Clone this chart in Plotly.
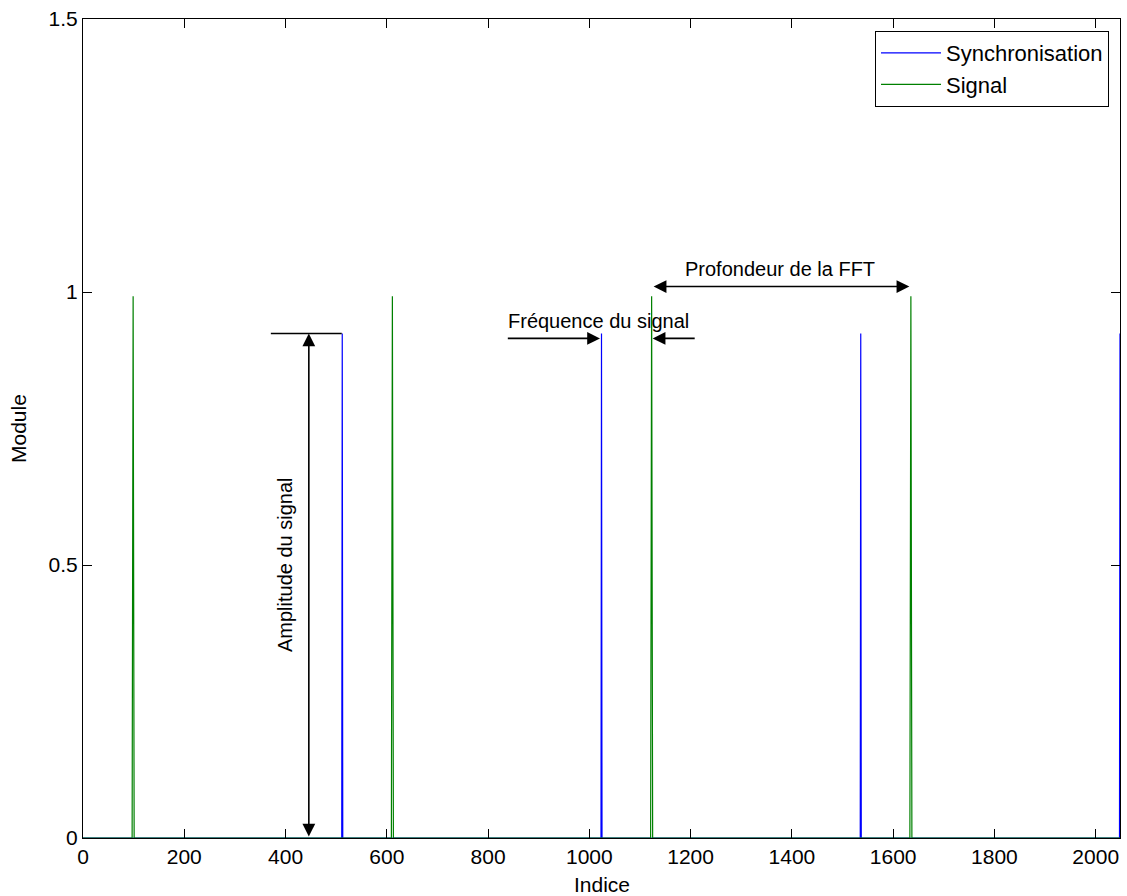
import plotly.graph_objects as go

# Data (index, module)
sync_x = [0, 511, 512, 513, 1023, 1024, 1025, 1535, 1536, 1537, 2047, 2048]
sync_y = [0, 0, 0.924, 0, 0, 0.924, 0, 0, 0.924, 0, 0, 0.924]

signal_x = [0, 97, 99, 101, 609, 611, 613, 1121, 1123, 1125, 1633, 1635, 1637, 2048]
signal_y = [0, 0, 0.992, 0, 0, 0.992, 0, 0, 0.992, 0, 0, 0.992, 0, 0]

x_ticks = [0, 200, 400, 600, 800, 1000, 1200, 1400, 1600, 1800, 2000]
y_ticks = [0, 0.5, 1, 1.5]
y_tick_text = ["0", "0.5", "1", "1.5"]

FONT = "Liberation Sans, Arial, Helvetica, sans-serif"

fig = go.Figure()
fig.add_trace(go.Scatter(x=sync_x, y=sync_y, mode="lines", name="Synchronisation",
                         line=dict(color="#0000FF", width=1.2)))
fig.add_trace(go.Scatter(x=signal_x, y=signal_y, mode="lines", name="Signal",
                         line=dict(color="#008000", width=1.2)))

axis_common = dict(showline=True, linecolor="black", linewidth=1, mirror="allticks",
                   ticks="inside", ticklen=9, tickcolor="black", tickwidth=1,
                   showgrid=False, zeroline=False, automargin=False,
                   tickfont=dict(family=FONT, size=21, color="black"))

fig.update_xaxes(range=[0, 2048], tickvals=x_ticks, **axis_common)
fig.update_yaxes(range=[0, 1.5], tickvals=y_ticks, ticktext=y_tick_text, **axis_common)

arrow_common = dict(showarrow=True, text="", axref="x", ayref="y", xref="x", yref="y",
                    arrowcolor="black", arrowwidth=1.6, arrowsize=1.6, arrowhead=2,
                    startarrowhead=2, startarrowsize=1.6, standoff=0, startstandoff=0)

text_font = dict(family=FONT, size=20, color="black")
annotations = [
    dict(x=446, y=0.924, ax=446, ay=0, arrowside="end+start", **arrow_common),
    dict(x=1021, y=0.915, ax=836, ay=0.915, arrowside="end", **arrow_common),
    dict(x=1125, y=0.915, ax=1211, ay=0.915, arrowside="end", **arrow_common),
    dict(x=1632, y=1.010, ax=1124, ay=1.010, arrowside="end+start", **arrow_common),
    dict(x=399, y=0.50, text="Amplitude du signal", showarrow=False, textangle=-90,
         xref="x", yref="y", font=text_font),
    dict(x=1019, y=0.947, text="Fréquence du signal", showarrow=False,
         xref="x", yref="y", font=text_font),
    dict(x=1377, y=1.042, text="Profondeur de la FFT", showarrow=False,
         xref="x", yref="y", font=text_font),
    # axis titles
    dict(x=0.5, y=-0.0562, text="Indice", showarrow=False, xref="paper", yref="paper",
         xanchor="center", yanchor="middle", font=dict(family=FONT, size=21, color="black")),
    dict(x=-0.0627, y=0.5006, text="Module", showarrow=False, xref="paper", yref="paper",
         textangle=-90, xanchor="center", yanchor="middle",
         font=dict(family=FONT, size=21, color="black")),
]

fig.update_layout(
    width=1127, height=896,
    margin=dict(l=83, r=7, t=19, b=58, autoexpand=False),
    paper_bgcolor="white", plot_bgcolor="white",
    annotations=annotations,
    shapes=[dict(type="line", xref="x", yref="y", x0=371, x1=511, y0=0.924, y1=0.924,
                 line=dict(color="black", width=1.6))],
    legend=dict(x=0.9894, y=0.9853, xanchor="right", yanchor="top",
                bgcolor="white", bordercolor="black", borderwidth=1,
                font=dict(family=FONT, size=22, color="black"),
                tracegroupgap=0, itemwidth=60),
    showlegend=True,
)

fig.write_html("out.html", config={"displayModeBar": False},
               post_script="document.body.style.margin='0';document.body.style.overflow='hidden';")
